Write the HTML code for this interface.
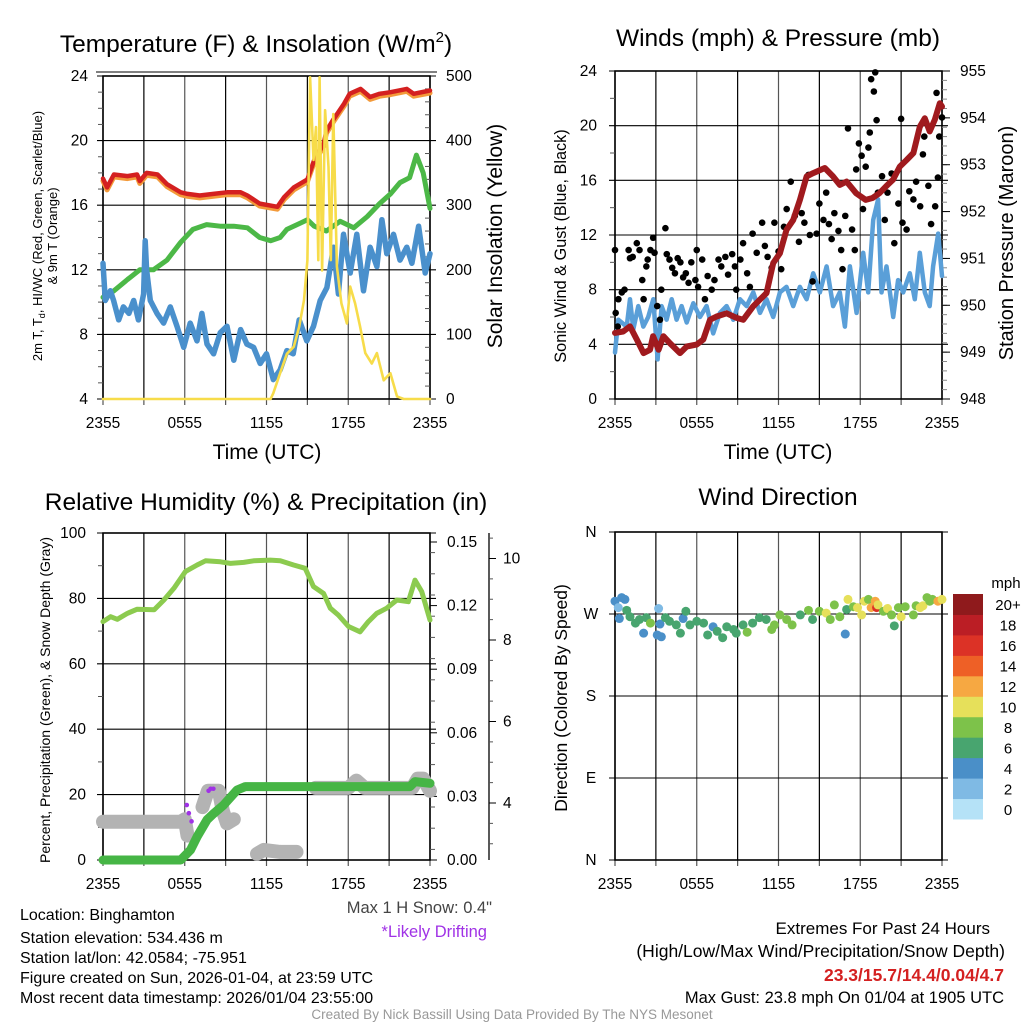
<!DOCTYPE html>
<html><head><meta charset="utf-8"><style>
html,body{margin:0;padding:0;background:#fff;}
svg{display:block;font-family:"Liberation Sans",Arial,sans-serif;}
</style></head><body>
<svg id="fig" width="1024" height="1024" viewBox="0 0 1024 1024" xmlns="http://www.w3.org/2000/svg"></svg>
<script>
// ---------- DATA ----------
const hourTicks=[0,3,6,9,12,15,18,21,24];
const timeLabels=["2355","0555","1155","1755","2355"];
// Panel 1
const tempTicks=[4,8,12,16,20,24];
const solarTicks=[0,100,200,300,400,500];
const redT=[0,0.3,0.8,1.8,2.5,2.7,3.2,4.0,4.7,5.7,6.2,7.1,8.1,9.1,10.1,10.6,11.5,12.8,13.3,14.0,15.0,15.5,16.2,16.4,16.9,17.7,18.1,18.9,19.6,20.3,21.1,22.3,22.8,24];
const redV=[17.65,17.1,17.9,17.8,17.9,17.5,18.0,17.9,17.3,16.8,16.7,16.6,16.7,16.8,16.8,16.6,16.1,15.9,16.5,17.1,17.6,18.8,19.8,20.6,21.3,22.3,22.9,23.2,22.7,22.9,23.0,23.2,22.9,23.1];
const greenT=[0,0.8,1.8,2.7,3.7,4.7,5.7,6.6,7.6,8.6,9.6,10.6,11.5,12.3,13.0,13.5,14.5,15.0,15.5,16.4,17.4,18.4,19.4,20.3,21.1,21.8,22.5,23.0,23.5,24];
const greenV=[10.3,10.7,11.4,12.0,12.0,12.6,13.7,14.5,14.8,14.7,14.7,14.6,14.0,13.8,14.0,14.5,14.9,15.1,14.7,14.4,15.0,14.6,15.3,16.1,16.7,17.4,17.7,19.1,18.0,15.8];
const blueT=[0,0.17,0.54,0.78,1.15,1.5,1.9,2.25,2.6,2.98,3.1,3.2,3.47,3.96,4.45,4.94,5.43,5.92,6.4,6.9,7.26,7.63,8.12,8.6,9.1,9.6,10.1,10.56,11.05,11.54,12.0,12.5,13.0,13.5,13.96,14.4,14.96,15.45,15.94,16.43,16.92,17.28,17.65,18.14,18.63,19.12,19.6,20.1,20.47,20.83,21.32,21.8,22.3,22.67,23.16,23.65,24];
const blueV=[12.4,10.1,10.7,10.1,8.9,9.7,9.3,10.1,8.9,10.5,13.8,12.0,10.1,9.3,8.7,9.7,8.5,7.2,8.7,7.6,9.3,7.4,6.8,8.1,8.5,6.4,8.3,7.4,7.2,6.2,6.8,5.2,5.8,7.0,6.8,8.9,7.6,8.5,10.1,10.9,13.4,10.5,14.2,11.8,14.2,10.7,13.4,12.2,15.1,13.0,14.2,12.6,13.4,12.4,14.7,11.8,13.0];
const solarT=[0,12.3,12.5,13.0,13.5,14.0,14.4,14.75,15.0,15.2,15.45,15.63,15.8,15.9,16.08,16.3,16.55,16.72,16.9,17.17,17.5,17.9,18.14,18.5,18.87,19.25,19.73,20.1,20.6,21.09,21.58,22.07,24];
const solarV=[0,0,9,40,70,81,112,153,215,498,370,421,215,498,199,447,359,215,441,205,148,117,174,148,112,71,55,71,29,40,4,0,0];
// Panel 2
const windTicks=[0,4,8,12,16,20,24];
const presTicks=[948,949,950,951,952,953,954,955];
const presT=[0,0.6,1.1,1.6,2.1,2.57,2.8,3.2,3.55,4.03,4.77,5.26,5.99,6.48,6.97,7.46,8.19,8.92,9.41,10.15,11.12,11.61,12.1,12.59,13.08,13.57,14.06,14.55,15.4,16.0,16.5,17.0,17.7,18.4,18.9,19.4,19.9,20.4,20.9,21.4,21.9,22.37,22.74,23.1,23.47,23.84,24];
const presV=[949.41,949.44,949.55,949.27,948.98,949.05,949.34,949.05,949.34,949.19,948.98,949.12,949.16,949.27,949.69,949.76,949.83,949.73,949.69,949.98,950.26,950.9,951.11,951.61,951.82,952.25,952.75,952.82,952.93,952.75,952.57,952.64,952.39,952.25,952.29,952.39,952.54,952.68,952.96,953.1,953.25,953.81,953.99,953.71,953.96,954.31,954.24];
const sonicT=[0,0.24,0.86,1.1,1.34,1.71,2.08,2.44,2.81,3.13,3.42,3.79,4.16,4.52,4.89,5.26,5.75,6.24,6.72,7.21,7.7,8.19,8.68,9.17,9.66,10.15,10.64,11.12,11.61,12.1,12.59,13.08,13.57,14.06,14.55,15.04,15.53,16.01,16.5,16.87,17.24,17.73,18.22,18.58,18.95,19.31,19.56,19.93,20.42,20.78,21.15,21.64,22.0,22.37,22.74,23.1,23.35,23.72,24];
const sonicV=[3.4,5.8,5.3,7.3,5.1,6.8,5.3,6.0,7.3,2.9,6.8,5.8,7.3,5.8,6.8,5.6,7.0,6.0,6.8,4.8,6.3,6.8,5.8,7.3,6.8,7.8,6.3,7.3,6.0,7.8,8.2,6.8,8.2,7.3,9.2,7.8,9.7,6.8,7.8,5.3,9.7,6.3,10.7,7.8,13.1,14.6,7.8,9.7,6.0,8.7,7.8,9.2,7.3,10.7,7.8,6.8,9.7,12.1,9.0];
const gustT=[0,0.05,0.2,0.25,0.5,0.7,1.0,1.1,1.3,1.6,1.8,2.0,2.1,2.3,2.4,2.6,2.8,2.9,3.1,3.3,3.4,3.7,3.8,4.0,4.2,4.4,4.6,4.8,5.0,5.2,5.4,5.6,5.9,6.0,6.1,6.4,6.6,6.8,7.1,7.3,7.6,7.8,8.1,8.3,8.6,8.8,8.9,9.2,9.4,9.7,9.9,10.1,10.4,10.8,11.0,11.2,11.5,11.7,12.0,12.2,12.4,12.6,12.9,13.2,13.5,13.7,13.9,14.2,14.3,14.5,14.8,15.0,15.3,15.5,15.7,15.9,16.1,16.4,16.6,16.7,16.9,17.1,17.4,17.6,17.7,17.9,18.1,18.2,18.4,18.6,18.7,18.8,19.0,19.1,19.2,19.3,19.6,19.8,20.0,20.3,20.5,20.8,21.0,21.1,21.4,21.6,21.9,22.1,22.4,22.6,22.7,23.0,23.2,23.5,23.6,23.7,23.8,24.0];
const gustV=[10.9,6.3,5.3,7.3,7.8,8.0,10.9,10.3,10.4,11.4,10.9,8.7,7.3,9.7,10.2,10.9,11.8,10.7,6.8,5.8,8.0,12.5,10.6,10.2,9.6,9.2,10.3,10.0,8.9,9.2,8.5,10.0,8.7,10.9,8.2,10.2,7.3,9.0,8.0,8.7,10.2,9.7,10.4,9.1,10.6,9.7,8.0,10.2,11.4,9.2,8.2,12.1,10.7,12.9,11.2,10.4,9.6,12.9,10.8,9.5,12.6,13.9,15.9,13.4,11.5,13.6,12.9,16.4,12.0,8.6,12.1,14.3,13.1,15.1,12.8,11.7,13.6,12.3,10.9,9.5,13.4,19.8,12.4,10.9,16.8,18.7,17.8,13.9,17.0,18.4,19.5,23.4,22.5,23.9,20.4,15.1,16.3,13.1,15.1,16.5,11.4,14.3,20.5,12.9,12.4,15.2,14.6,15.9,14.1,17.9,19.2,15.6,12.8,14.1,22.4,16.2,19.2,20.6];
// Panel 3
const rhTicks=[0,20,40,60,80,100];
const precipTicks=["0.00","0.03","0.06","0.09","0.12","0.15"];
const snowTicks=[4,6,8,10];
const rhT=[0,0.56,1.05,1.78,2.51,3.76,4.47,5.2,6.05,6.91,7.52,8.62,9.35,10.33,11.06,12.28,13.01,13.99,14.84,15.45,16.19,16.68,17.28,18.02,18.87,19.48,20.09,20.82,21.56,22.41,22.9,23.39,24];
const rhV=[72.9,74.4,73.6,75.4,76.7,76.5,79.5,83.1,88.2,90.2,91.5,91.2,90.7,91.0,91.5,91.7,91.5,90.2,89.2,83.6,81.5,77.0,74.9,71.4,69.8,72.9,75.4,77.0,79.5,79.0,85.6,82.1,73.4];
const precipT=[0,5.7,6.42,6.91,7.64,8.13,8.86,9.84,10.45,22.53,22.9,24];
const precipV=[0,0,0.0047,0.011,0.019,0.022,0.026,0.033,0.0346,0.0346,0.037,0.0362];
const snowT=[0,5.7,6.0,6.2,null,7.3,7.7,8.5,8.8,9.1,9.6,null,11.3,11.8,13.0,14.2,null,15.6,18.0,18.6,19.2,22.7,23.1,23.5,24];
const snowV=[3.54,3.54,3.6,3.2,null,3.9,4.3,4.3,3.8,3.5,3.6,null,2.75,2.85,2.8,2.8,null,4.37,4.37,4.55,4.37,4.37,4.6,4.6,4.3];
const driftT=[6.15,6.3,6.5,7.75,7.9,8.1];
const driftV=[3.95,3.75,3.55,4.3,4.35,4.35];
// Panel 4
const dirLabels=["N","W","S","E","N"];
const dirTicks=[360,270,180,90,0];
const dirT=[0,0.24,0.32,0.49,0.73,0.86,1.1,1.5,1.8,2.1,2.3,2.6,3.1,3.2,3.3,3.4,3.7,4.0,4.5,4.8,5.0,5.2,5.5,6.0,6.5,6.8,7.2,7.5,7.9,8.2,8.7,8.9,9.4,9.7,10.1,10.6,11.1,11.5,11.7,12.1,12.6,13.0,13.6,14.2,14.5,15.0,15.5,15.8,16.1,16.5,16.9,17.0,17.1,17.5,17.8,18.1,18.3,18.6,18.8,19.1,19.2,19.3,19.7,20.0,20.3,20.5,20.8,21.0,21.3,21.9,22.1,22.4,22.6,22.9,23.1,23.3,23.7,24.0];
const dirV=[284,277,265,288,286,274,267,260,264,249,266,260,247,276,259,245,266,262,258,249,265,273,258,262,260,247,256,251,244,256,253,249,258,250,260,266,264,253,258,269,264,258,269,274,264,273,271,264,280,267,248,275,286,278,277,269,284,286,277,284,277,280,273,276,269,257,277,267,278,269,279,277,279,288,284,286,284,286];
const dirS=[4,3,4,4,4,6,6,6,7,4,6,8,4,2,4,4,6,6,6,6,4,6,6,6,6,6,5,6,6,6,6,6,6,8,6,6,6,8,8,8,8,8,6,8,6,8,10,8,8,8,4,6,10,8,10,10,10,8,12,13,16,10,8,10,8,6,8,10,8,8,8,10,10,8,8,8,12,10];
const cbLabels=["0","2","4","6","8","10","12","14","16","18","20+"];
const cbColors=["#b5e2f7","#7fbae4","#4a8fc8","#48a56f","#7dc24a","#e6e05a","#f6a842","#ee6026","#dc3226","#bb1e25","#8f1a1c"];

// ---------- HELPERS ----------
const NS="http://www.w3.org/2000/svg";
const svg=document.getElementById('fig');
function mk(tag,attrs,parent){const e=document.createElementNS(NS,tag);for(const k in attrs)e.setAttribute(k,attrs[k]);(parent||svg).appendChild(e);return e;}
function txt(s,x,y,size,anchor,parent,extra){const e=mk('text',Object.assign({x:x,y:y,'font-size':size,'text-anchor':anchor||'middle',fill:'#000'},extra||{}),parent);e.textContent=s;return e;}
const P1={x0:103,x1:430,y0:76,y1:399},P2={x0:615,x1:942,y0:71,y1:399},P3={x0:103,x1:430,y0:533,y1:860},P4={x0:615,x1:942,y0:532,y1:860};
function X(p,t){return p.x0+t/24*(p.x1-p.x0);}
const yTemp=v=>P1.y1-(v-4)/20*(P1.y1-P1.y0);
const ySolar=v=>P1.y1-v/500*(P1.y1-P1.y0);
const yWind=v=>P2.y1-v/24*(P2.y1-P2.y0);
const yPres=v=>P2.y1-(v-948)/7*(P2.y1-P2.y0);
const yRH=v=>P3.y1-v/100*(P3.y1-P3.y0);
const yPrecip=v=>860-v/0.15*318;
const ySnow=v=>803-(v-4)*40.75;
const yDir=v=>P4.y1-v/360*(P4.y1-P4.y0);
function pathD(p,ts,vs,yf){let d='',pen=false;for(let i=0;i<ts.length;i++){if(ts[i]===null||vs[i]===null){pen=false;continue;}d+=(pen?'L':'M')+X(p,ts[i]).toFixed(1)+' '+yf(vs[i]).toFixed(1);pen=true;}return d;}
const TK=15.5;
function grid(p,g,hVals,yf){
  hourTicks.forEach((t,i)=>{const l=mk('line',{x1:X(p,t),x2:X(p,t),y1:p.y0,y2:p.y1,stroke:(i%2?'#000':'#555'),'stroke-width':1.2},g);
    
    mk('line',{x1:X(p,t),x2:X(p,t),y1:p.y1,y2:p.y1+6,stroke:'#555','stroke-width':1.2},g);});
  hVals.forEach(v=>{const l=mk('line',{x1:p.x0-6,x2:p.x1+6,y1:yf(v),y2:yf(v),stroke:'#000','stroke-width':1.1},g);
    });
  const r=mk('rect',{x:p.x0,y:p.y0,width:p.x1-p.x0,height:p.y1-p.y0,fill:'none',stroke:'#000','stroke-width':1.6},g);
  
  timeLabels.forEach((s,i)=>{const e=txt(s,X(p,i*6),p.y1+29,TK,'middle',g);});
}
function line(p,g,ts,vs,yf,color,w,name){const e=mk('path',{d:pathD(p,ts,vs,yf),fill:'none',stroke:color,'stroke-width':w,'stroke-linejoin':'round','stroke-linecap':'round'},g);
  return e;}

// ---------- PANEL 1 ----------
const g1=mk('g',{});
grid(P1,g1,tempTicks,yTemp);
mk('line',{x1:96,x2:437,y1:72,y2:72,stroke:'#000','stroke-width':1.1},g1);
for(let v=5;v<24;v++){if(v%4)mk('line',{x1:P1.x0-5,x2:P1.x0,y1:yTemp(v),y2:yTemp(v),stroke:'#555'},g1);}
for(let v=20;v<500;v+=20){if(v%100)mk('line',{x1:P1.x1-5,x2:P1.x1,y1:ySolar(v),y2:ySolar(v),stroke:'#555'},g1);}
tempTicks.forEach(v=>{const e=txt(String(v),88,yTemp(v)+5,TK,'end',g1);});
solarTicks.forEach(v=>{const e=txt(String(v),446,ySolar(v)+5,TK,'start',g1);});
line(P1,g1,greenT,greenV,yTemp,'#4cb847',5,'dewpoint-line');
line(P1,g1,blueT,blueV,yTemp,'#4a90cc',5.5,'windchill-line');
line(P1,g1,redT,redV.map(v=>v-0.15),yTemp,'#f39a3a',5,'temp-9m-line');
line(P1,g1,redT,redV,yTemp,'#d42020',4.5,'temp-2m-line');
line(P1,g1,solarT,solarV,ySolar,'#f7dc4a',2.6,'solar-insolation-line');
{const e=txt('Temperature (F) & Insolation (W/m',256,52,24.5,'middle',g1);const s=mk('tspan',{'font-size':15,dy:-10},e);s.textContent='2';const s2=mk('tspan',{'font-size':24.5,dy:10},e);s2.textContent=')';}
{const e=txt('2m T, T',0,0,13,'middle',g1,{transform:'translate(42,236) rotate(-90)'});const s=mk('tspan',{'font-size':9,dy:3},e);s.textContent='d';const s2=mk('tspan',{dy:-3},e);s2.textContent=', HI/WC (Red, Green, Scarlet/Blue)';}
{const e=txt('& 9m T (Orange)',0,0,13,'middle',g1,{transform:'translate(57,236) rotate(-90)'});}
{const e=txt('Solar Insolation (Yellow)',0,0,21,'middle',g1,{transform:'translate(502,236) rotate(-90)'});}
{const e=txt('Time (UTC)',267,459,21,'middle',g1);}

// ---------- PANEL 2 ----------
const g2=mk('g',{});
grid(P2,g2,windTicks,yWind);
for(let v=2;v<24;v+=4)mk('line',{x1:P2.x0-5,x2:P2.x0,y1:yWind(v),y2:yWind(v),stroke:'#555'},g2);
for(let v=948.2;v<955;v+=0.2){mk('line',{x1:P2.x1,x2:P2.x1+5,y1:yPres(v),y2:yPres(v),stroke:'#888'},g2);}
presTicks.forEach(v=>{mk('line',{x1:P2.x1,x2:P2.x1+8,y1:yPres(v),y2:yPres(v),stroke:'#000'},g2);const e=txt(String(v),960,yPres(v)+5,TK,'start',g2);});
windTicks.forEach(v=>{const e=txt(String(v),597,yWind(v)+5,TK,'end',g2);});
line(P2,g2,sonicT,sonicV,yWind,'#5a9fd8',4.5,'sonic-wind-line');
gustT.forEach((t,i)=>{const c=mk('circle',{cx:X(P2,t),cy:yWind(gustV[i]),r:3.3,fill:'#000'},g2);
  });
line(P2,g2,presT,presV,yPres,'#a01a1e',6,'pressure-line');
{const e=txt('Winds (mph) & Pressure (mb)',778,46,24.5,'middle',g2);}
{const e=txt('Sonic Wind & Gust (Blue, Black)',0,0,16.3,'middle',g2,{transform:'translate(566,246) rotate(-90)'});}
{const e=txt('Station Pressure (Maroon)',0,0,20,'middle',g2,{transform:'translate(1013,243) rotate(-90)'});}
{const e=txt('Time (UTC)',778,459,21,'middle',g2);}

// ---------- PANEL 3 ----------
const g3=mk('g',{});
grid(P3,g3,rhTicks,yRH);
for(let v=10;v<100;v+=20)mk('line',{x1:P3.x0-5,x2:P3.x0,y1:yRH(v),y2:yRH(v),stroke:'#555'},g3);
rhTicks.forEach(v=>{const e=txt(String(v),86,yRH(v)+5,TK,'end',g3);});
precipTicks.forEach(s=>{const v=parseFloat(s);mk('line',{x1:P3.x1,x2:P3.x1+7,y1:yPrecip(v),y2:yPrecip(v),stroke:'#000'},g3);const e=txt(s,447,yPrecip(v)+5,TK,'start',g3);});
for(let v=0.005;v<0.155;v+=0.01)mk('line',{x1:P3.x1,x2:P3.x1+5,y1:yPrecip(v),y2:yPrecip(v),stroke:'#555'},g3);
{const a=mk('line',{x1:489,x2:489,y1:533,y2:860,stroke:'#000','stroke-width':1.3},g3);}
for(let v=3;v<=10.5;v+=0.5)mk('line',{x1:489,x2:493,y1:ySnow(v),y2:ySnow(v),stroke:'#555'},g3);
snowTicks.forEach(v=>{mk('line',{x1:489,x2:496,y1:ySnow(v),y2:ySnow(v),stroke:'#000'},g3);const e=txt(String(v),503,ySnow(v)+5,TK,'start',g3);});
line(P3,g3,snowT,snowV,ySnow,'#b3b3b3',14,'snow-depth-line');
line(P3,g3,rhT,rhV,yRH,'#8ccb4f',5,'rh-line');
line(P3,g3,precipT,precipV,yPrecip,'#46b545',9,'precip-line');
driftT.forEach((t,i)=>{const c=mk('circle',{cx:X(P3,t),cy:ySnow(driftV[i]),r:2.3,fill:'#a032e6'},g3);});
{const e=txt('Relative Humidity (%) & Precipitation (in)',266,510,24.5,'middle',g3);}
{const e=txt('Percent, Precipitation (Green), & Snow Depth (Gray)',0,0,14,'middle',g3,{transform:'translate(50,700) rotate(-90)'});}

// ---------- PANEL 4 ----------
const g4=mk('g',{});
grid(P4,g4,dirTicks,yDir);
dirLabels.forEach((s,i)=>{const e=txt(s,591,yDir(dirTicks[i])+5,TK,'middle',g4);});
dirT.forEach((t,i)=>{const idx=Math.min(10,Math.floor(dirS[i]/2));const c=mk('circle',{cx:X(P4,t),cy:yDir(dirV[i]),r:4.5,fill:cbColors[idx]},g4);
  });
{const e=txt('Wind Direction',778,505,24.5,'middle',g4);}
{const e=txt('Direction (Colored By Speed)',0,0,17.5,'middle',g4,{transform:'translate(567,698) rotate(-90)'});}
const cb=mk('g',{},g4);
cbColors.forEach((c,i)=>{const h=225/11;const y=819-(i+1)*h;const r=mk('rect',{x:953,y:y,width:30,height:h+0.5,fill:c},cb);
  const e=txt(cbLabels[i],1008,y+h/2+6,15,'middle',cb);});
{const e=txt('mph',1006,588,15,'middle',cb);}

// ---------- FOOTER TEXT ----------
const info=["Location: Binghamton","Station elevation: 534.436 m","Station lat/lon: 42.0584; -75.951","Figure created on Sun, 2026-01-04, at 23:59 UTC","Most recent data timestamp: 2026/01/04 23:55:00"];
const infoY=[920,943,963,983,1003];
info.forEach((s,i)=>{const e=txt(s,20,infoY[i],16,'start');});
{const e=txt('Max 1 H Snow: 0.4"',492,913,16.5,'end',null,{fill:'#444'});}
{const e=txt('*Likely Drifting',487,937,16.5,'end',null,{fill:'#a032e6'});}
{const e=txt('Extremes For Past 24 Hours',990,934,17,'end');}
{const e=txt('(High/Low/Max Wind/Precipitation/Snow Depth)',1005,957,17.5,'end');}
{const e=txt('23.3/15.7/14.4/0.04/4.7',1004,981,17.5,'end',null,{fill:'#d42020','font-weight':'bold'});}
{const e=txt('Max Gust: 23.8 mph On 01/04 at 1905 UTC',1004,1003,16.5,'end');}
{const e=txt('Created By Nick Bassill Using Data Provided By The NYS Mesonet',512,1019,13.5,'middle',null,{fill:'#999'});}
</script>
</body></html>
